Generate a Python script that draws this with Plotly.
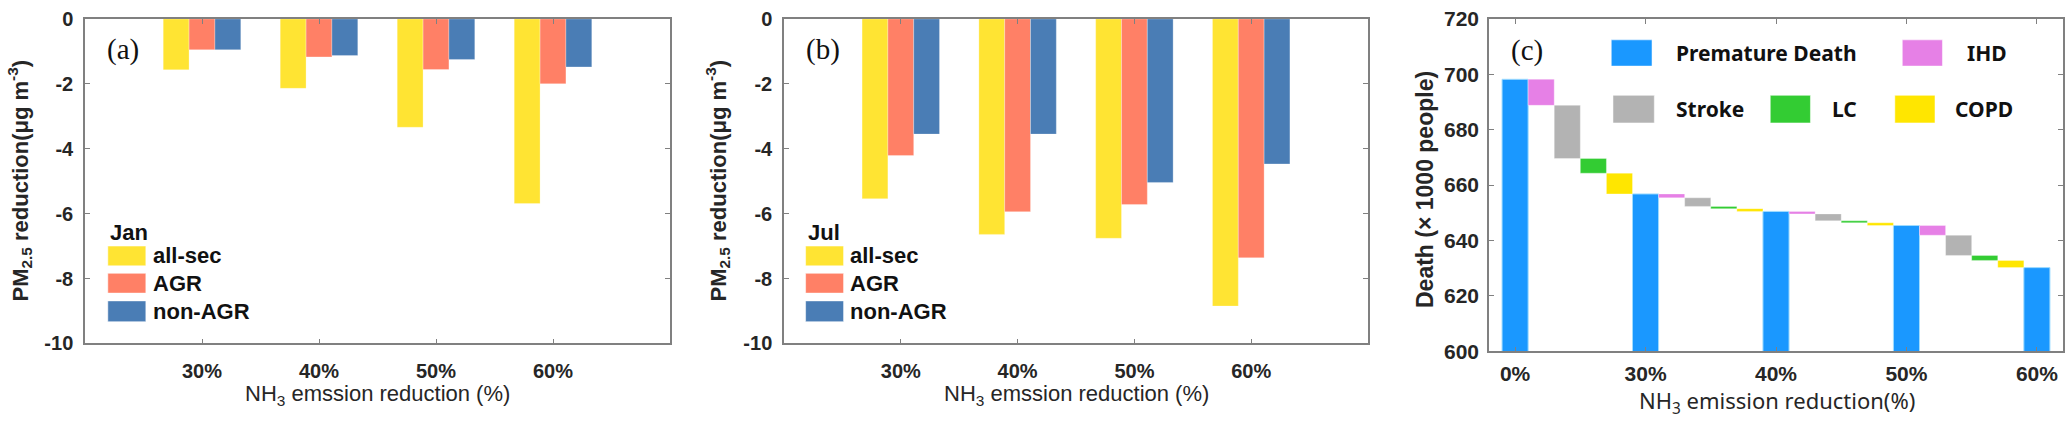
import plotly.graph_objects as go

# ---------------- data ----------------
categories = ["30%", "40%", "50%", "60%"]
jan_all_sec = [-1.57, -2.14, -3.34, -5.69]
jan_agr = [-0.95, -1.17, -1.56, -2.00]
jan_non_agr = [-0.95, -1.13, -1.25, -1.48]
jul_all_sec = [-5.54, -6.64, -6.76, -8.85]
jul_agr = [-4.21, -5.94, -5.72, -7.36]
jul_non_agr = [-3.55, -3.55, -5.04, -4.47]
y_ticks_ab = [0, -2, -4, -6, -8, -10]
y_ticktext_ab = ["0", "-2", "-4", "-6", "-8", "-10"]

stages = ["0%", "30%", "40%", "50%", "60%"]
premature_death = [698.2, 656.8, 650.5, 645.4, 630.2]
ihd = [9.4, 1.4, 0.9, 3.5]
stroke = [19.2, 3.1, 2.5, 7.3]
lc = [5.3, 0.8, 0.7, 1.8]
copd = [7.5, 1.0, 1.0, 2.6]
y_ticks_c = [600, 620, 640, 660, 680, 700, 720]

# ---------------- styles ----------------
W, H = 2067, 433
SANS = "Liberation Sans, Arial, sans-serif"
SERIF = "Liberation Serif, Times New Roman, serif"
CJK = "Noto Sans, Liberation Sans, sans-serif"
TXT = "#262626"
FRAME = "#808080"
C_ALL, C_AGR, C_NON = "#FFE433", "#FF8066", "#4A7DB5"
C_PD, C_IHD, C_STR, C_LC, C_COPD = "#1A98FF", "#E680E6", "#B3B3B3", "#33CC33", "#FFE600"


def px_x(p):
    return p / W


def px_y(p):
    return 1 - p / H


dom_a = [px_x(85), px_x(670)]
dom_b = [px_x(784), px_x(1368)]
dom_c = [px_x(1489), px_x(2063)]
dom_y_ab = [px_y(350), px_y(7.3)]
dom_y_c = [px_y(358.3), px_y(7.3)]

fig = go.Figure()

# ---------------- panels (a) and (b) ----------------
for ax, series in (("", (jan_all_sec, jan_agr, jan_non_agr)),
                   ("2", (jul_all_sec, jul_agr, jul_non_agr))):
    for vals, col, name in zip(series, (C_ALL, C_AGR, C_NON), ("all-sec", "AGR", "non-AGR")):
        fig.add_trace(go.Bar(
            x=categories, y=vals, name=name, showlegend=False,
            marker=dict(color=col, line=dict(color="rgba(255,255,255,0.35)", width=0.8)),
            xaxis="x" + ax, yaxis="y" + ax, offsetgroup=name,
        ))

# ---------------- panel (c) waterfall ----------------
stage_pos = [5 * i for i in range(len(stages))]
fig.add_trace(go.Bar(
    x=stage_pos, y=premature_death, base=[0] * len(premature_death),
    width=1, offset=-0.5, showlegend=False, name="Premature Death",
    marker=dict(color=C_PD, line=dict(color="#9fdcff", width=1)),
    xaxis="x3", yaxis="y3",
))
causes = [("IHD", ihd, C_IHD), ("Stroke", stroke, C_STR), ("LC", lc, C_LC), ("COPD", copd, C_COPD)]
running = list(premature_death[:-1])
for k, (name, vals, col) in enumerate(causes):
    xs = [5 * i + k + 1 for i in range(len(vals))]
    bases = [running[i] - vals[i] for i in range(len(vals))]
    fig.add_trace(go.Bar(
        x=xs, y=vals, base=bases, width=1, offset=-0.5, showlegend=False, name=name,
        marker=dict(color=col, line=dict(color="rgba(255,255,255,0.4)", width=0.8)),
        xaxis="x3", yaxis="y3",
    ))
    running = bases

# ---------------- axes ----------------
tickfont = dict(family=SANS, size=20, color=TXT, weight="bold")
tickfont_c = dict(family=SANS, size=21, color=TXT, weight="bold")
common_ax = dict(showline=True, linecolor=FRAME, linewidth=1.5, mirror="ticks",
                 ticks="inside", ticklen=5, tickcolor=FRAME, tickwidth=1,
                 showgrid=False, zeroline=False, ticklabeloverflow="allow")

fig.update_layout(
    xaxis=dict(domain=dom_a, anchor="y", type="category", range=[-1, 4],
               tickfont=tickfont, ticklabelstandoff=9, **common_ax),
    yaxis=dict(domain=dom_y_ab, anchor="x", range=[-10, 0], tickvals=y_ticks_ab,
               ticktext=y_ticktext_ab, tickfont=tickfont, ticklabelstandoff=6, **common_ax),
    xaxis2=dict(domain=dom_b, anchor="y2", type="category", range=[-1, 4],
                tickfont=tickfont, ticklabelstandoff=9, **common_ax),
    yaxis2=dict(domain=dom_y_ab, anchor="x2", range=[-10, 0], tickvals=y_ticks_ab,
                ticktext=y_ticktext_ab, tickfont=tickfont, ticklabelstandoff=6, **common_ax),
    xaxis3=dict(domain=dom_c, anchor="y3", range=[-1, 21], tickvals=stage_pos, ticktext=stages,
                tickfont=tickfont_c, ticklabelstandoff=3, **common_ax),
    yaxis3=dict(domain=dom_y_c, anchor="x3", range=[600, 720], tickvals=y_ticks_c,
                tickfont=tickfont_c, ticklabelstandoff=4, **common_ax),
    barmode="group", bargap=0.337, bargroupgap=0,
    width=W, height=H, margin=dict(l=0, r=0, t=0, b=0),
    paper_bgcolor="white", plot_bgcolor="white", showlegend=False,
)

# ---------------- axis titles (placed as paper annotations) ----------------
titles = [
    ("NH<sub>3</sub> emssion reduction (%)", 377, 405, 0, dict(family=SANS, size=22, color=TXT)),
    ("NH<sub>3</sub> emssion reduction (%)", 1076, 405, 0, dict(family=SANS, size=22, color=TXT)),
    ("NH<sub>3</sub> emission reduction(%)", 1777, 412, 0, dict(family=CJK, size=22, color=TXT)),
    ("PM<sub>2.5</sub> reduction(μg m<sup>-3</sup>)", 20, 178, -90,
     dict(family=SANS, size=22, color=TXT, weight="bold")),
    ("PM<sub>2.5</sub> reduction(μg m<sup>-3</sup>)", 718, 178, -90,
     dict(family=SANS, size=22, color=TXT, weight="bold")),
    ("Death (× 1000 people)", 1425, 188, -90,
     dict(family=SANS, size=23, color=TXT, weight="bold")),
]
for text, xp, yp, ang, font in titles:
    fig.add_annotation(xref="paper", yref="paper", x=px_x(xp), y=px_y(yp),
                       xanchor="center", yanchor="middle", text=text, textangle=ang,
                       showarrow=False, font=font)

# ---------------- panel labels ----------------
for xr, yr, lab in (("x domain", "y domain", "(a)"), ("x2 domain", "y2 domain", "(b)"),
                    ("x3 domain", "y3 domain", "(c)")):
    fig.add_annotation(xref=xr, yref=yr, x=0.034, y=0.905, xanchor="left", yanchor="middle",
                       text=lab, showarrow=False, font=dict(family=SERIF, size=29, color="#111"))

# ---------------- custom legends (a), (b) ----------------
leg_rows = [("all-sec", C_ALL, 0.300, 0.239), ("AGR", C_AGR, 0.216, 0.155), ("non-AGR", C_NON, 0.131, 0.067)]
for xr, yr, title, sx0, sx1, tx in (("x domain", "y domain", "Jan", 0.039, 0.104, 0.112),
                                    ("x2 domain", "y2 domain", "Jul", 0.037, 0.102, 0.110)):
    fig.add_annotation(xref=xr, yref=yr, x=sx0, y=0.341, xanchor="left", yanchor="middle",
                       text=title, showarrow=False,
                       font=dict(family=SANS, size=22, color="#111", weight="bold"))
    for name, col, y1, y0 in leg_rows:
        fig.add_shape(type="rect", xref=xr, yref=yr, x0=sx0, x1=sx1, y0=y0, y1=y1,
                      fillcolor=col, line=dict(color="rgba(255,255,255,0.5)", width=1))
        fig.add_annotation(xref=xr, yref=yr, x=tx, y=(y0 + y1) / 2, xanchor="left",
                           yanchor="middle", text=name, showarrow=False,
                           font=dict(family=SANS, size=22, color="#111", weight="bold"))

# ---------------- custom legend (c) ----------------
leg_c = [("Premature Death", C_PD, 0.213, 0.284, 0.322, 0.858, 0.937),
         ("IHD", C_IHD, 0.720, 0.790, 0.830, 0.858, 0.937),
         ("Stroke", C_STR, 0.216, 0.288, 0.322, 0.687, 0.770),
         ("LC", C_LC, 0.490, 0.560, 0.594, 0.687, 0.770),
         ("COPD", C_COPD, 0.707, 0.777, 0.808, 0.687, 0.770)]
for name, col, x0, x1, tx, y0, y1 in leg_c:
    fig.add_shape(type="rect", xref="x3 domain", yref="y3 domain", x0=x0, x1=x1, y0=y0, y1=y1,
                  fillcolor=col, line=dict(color="rgba(255,255,255,0.5)", width=1))
    fig.add_annotation(xref="x3 domain", yref="y3 domain", x=tx, y=(y0 + y1) / 2,
                       xanchor="left", yanchor="middle", text=name, showarrow=False,
                       font=dict(family=CJK, size=21, color="#111", weight="bold"))

# remove the default 8px page margin so the figure sits at the window's top-left corner
fig.write_html("out.html", config={"displayModeBar": False},
               post_script="document.body.style.margin='0px';")
